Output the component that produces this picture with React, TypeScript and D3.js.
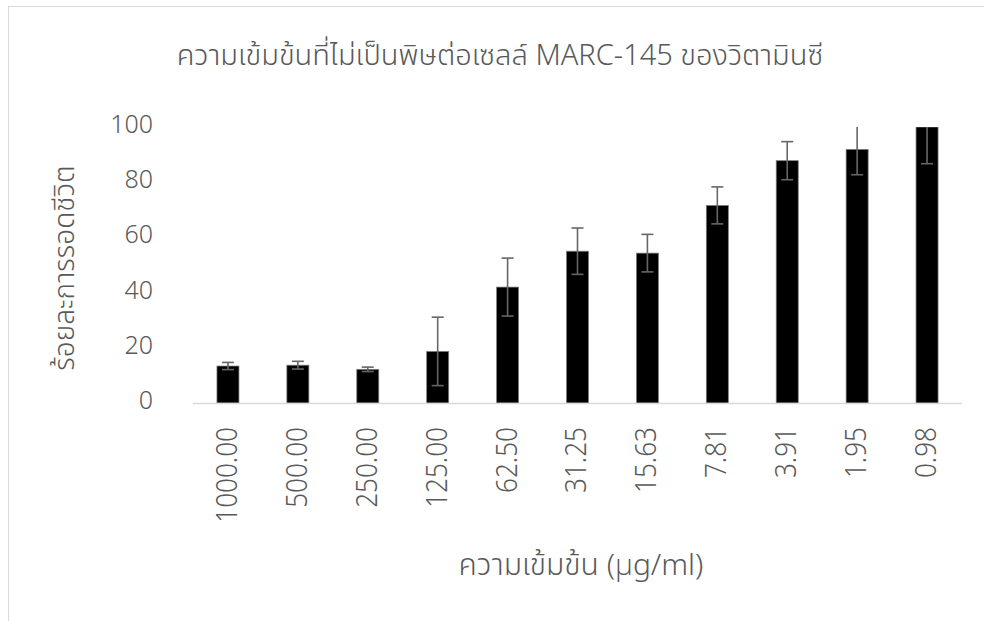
import React from "react";
import * as d3 from "d3";

const categories = ["1000.00", "500.00", "250.00", "125.00", "62.50", "31.25", "15.63", "7.81", "3.91", "1.95", "0.98"];
const survival = [13.4, 13.7, 12.2, 18.7, 42.0, 55.0, 54.3, 71.6, 87.8, 91.9, 100];
const errors = [1.3, 1.4, 0.8, 12.4, 10.5, 8.4, 6.8, 6.7, 6.9, 9.2, 13.3];
const yTicks = [0, 20, 40, 60, 80, 100];

const title = "ความเข้มข้นที่ไม่เป็นพิษต่อเซลล์ MARC-145 ของวิตามินซี";
const xTitle = "ความเข้มข้น (µg/ml)";
const yTitle = "ร้อยละการรอดชีวิต";

const W = 984;
const H = 621;
const FONT = "'Leelawadee UI', 'Noto Sans Thai', 'Open Sans', 'Noto Sans', sans-serif";
const TEXT = "#595959";

export default function App() {
  const x = d3.scaleBand<string>().domain(categories).range([193, 962]).paddingInner(0.685).paddingOuter(0.3425);
  const y = d3.scaleLinear().domain([0, 100]).range([403, 127]);
  const top = y(100);
  const cap = 6;

  return (
    <div style={{ position: "absolute", left: 0, top: 0 }}>
      <svg width={W} height={H} style={{ display: "block", background: "#fff" }} fontFamily={FONT}>
        <defs>
          <clipPath id="plotClip">
            <rect x={150} y={top} width={850} height={y(0) - top + 2} />
          </clipPath>
        </defs>
        <rect x={8.5} y={6.5} width={1100} height={800} fill="#fff" stroke="#d9d9d9" strokeWidth={1} />
        <text x={500} y={65} textAnchor="middle" fontSize={29} fill={TEXT} fontWeight={300}>
          {title}
        </text>
        {yTicks.map((t) => (
          <text key={t} x={153} y={y(t) - 2} textAnchor="end" dominantBaseline="central" fontSize={25} fill={TEXT} fontWeight={300}>
            {t}
          </text>
        ))}
        <g clipPath="url(#plotClip)">
          {categories.map((c, i) => (
            <rect
              key={c}
              x={x(c)!}
              y={y(survival[i])}
              width={x.bandwidth()}
              height={y(0) - y(survival[i])}
              fill="#000"
              stroke="#7f7f7f"
              strokeWidth={0.75}
            />
          ))}
          {categories.map((c, i) => {
            const cx = x(c)! + x.bandwidth() / 2;
            const hi = y(survival[i] + errors[i]);
            const lo = y(survival[i] - errors[i]);
            return (
              <g key={c} stroke="#666" strokeWidth={1.6}>
                <line x1={cx} x2={cx} y1={hi} y2={lo} />
                <line x1={cx - cap} x2={cx + cap} y1={hi} y2={hi} />
                <line x1={cx - cap} x2={cx + cap} y1={lo} y2={lo} />
              </g>
            );
          })}
        </g>
        <line x1={193} x2={962} y1={y(0) + 0.5} y2={y(0) + 0.5} stroke="#d9d9d9" strokeWidth={1.5} />
        {categories.map((c) => {
          const cx = x(c)! + x.bandwidth() / 2;
          return (
            <text
              key={c}
              transform={`translate(${cx},${427}) rotate(-90) scale(0.9,1)`}
              textAnchor="end"
              dominantBaseline="central"
              fontSize={29}
              fill={TEXT}
              fontWeight={300}
            >
              {c}
            </text>
          );
        })}
        <text x={581} y={575} textAnchor="middle" fontSize={30} fill={TEXT} fontWeight={300}>
          {xTitle}
        </text>
        <text transform={`translate(${74},${268}) rotate(-90)`} textAnchor="middle" fontSize={28} fill={TEXT} fontWeight={300}>
          {yTitle}
        </text>
      </svg>
    </div>
  );
}
